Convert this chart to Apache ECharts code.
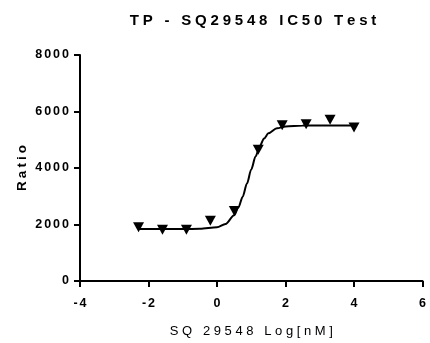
<!DOCTYPE html>
<html>
<head>
<meta charset="utf-8">
<script src="https://cdn.jsdelivr.net/npm/echarts@6/dist/echarts.min.js"></script>
<style>html,body{margin:0;padding:0;background:#fff;overflow:hidden}#c{width:430px;height:343px}</style>
</head>
<body>
<div id="c"></div>
<script>
// ---- data ----
const chartTitle = 'TP - SQ29548 IC50 Test';
const xAxisTitle = 'SQ 29548 Log[nM]';
const yAxisTitle = 'Ratio';
const xTicks = [-4, -2, 0, 2, 4, 6];
const yTicks = [0, 2000, 4000, 6000, 8000];
// measured points (log concentration, ratio)
const logConc = [-2.291, -1.592, -0.893, -0.194, 0.505, 1.204, 1.903, 2.602, 3.301, 4.0];
const ratio = [1900, 1815, 1815, 2135, 2480, 4650, 5515, 5550, 5710, 5435];
// fitted curve
const fitX = [-2.3, -1.5, -1.0, -0.5, 0, 0.25, 0.5, 0.625, 0.75, 0.875, 1.0, 1.125, 1.25, 1.375, 1.5, 1.75, 2.0, 2.5, 3.0, 4.0];
const fitY = [1840, 1840, 1840, 1847, 1901, 2017, 2325, 2605, 2985, 3452, 3950, 4409, 4779, 5047, 5226, 5406, 5472, 5502, 5506, 5506];

const FONT = "'Liberation Sans', Arial, Helvetica, sans-serif";
function spaced(str, key) {
  return String(str).split('').map(c => '{' + key + '|' + c + '}').join('');
}

const chart = echarts.init(document.getElementById('c'), null, {renderer: 'canvas'});
const pts = logConc.map((x, i) => [x, ratio[i]]);
const curve = fitX.map((x, i) => [x, fitY[i]]);

chart.setOption({
  animation: false,
  backgroundColor: '#ffffff',
  title: {
    text: spaced(chartTitle, 't'),
    left: 253,
    top: 12,
    padding: 0,
    textAlign: 'center',
    textStyle: {
      rich: {
        t: {fontFamily: FONT, fontWeight: 'bold', fontSize: 15, color: '#000', padding: [0, 1.9, 0, 1.9], lineHeight: 17}
      }
    }
  },
  grid: {left: 80, right: 4, top: 55, bottom: 57, containLabel: false},
  xAxis: {
    type: 'value',
    min: xTicks[0], max: xTicks[xTicks.length - 1], interval: 2,
    name: spaced(xAxisTitle, 'n'),
    nameLocation: 'middle',
    nameGap: 43,
    nameMoveOverlap: false,
    nameTextStyle: {
      rich: { n: {fontFamily: FONT, fontSize: 13, color: '#000', padding: [0, 1.8, 0, 1.8], lineHeight: 15} }
    },
    axisLine: {show: true, onZero: false, lineStyle: {color: '#000', width: 2}},
    axisTick: {show: true, inside: false, length: 6, lineStyle: {color: '#000', width: 2}},
    splitLine: {show: false},
    axisLabel: {
      margin: 16,
      formatter: v => spaced(v, 'l'),
      rich: { l: {fontFamily: FONT, fontWeight: 'bold', fontSize: 12.5, color: '#000', padding: [0, 1, 0, 1], lineHeight: 14} }
    }
  },
  yAxis: {
    type: 'value',
    min: yTicks[0], max: yTicks[yTicks.length - 1], interval: 2000,
    name: spaced(yAxisTitle, 'y'),
    nameLocation: 'middle',
    nameRotate: 90,
    nameGap: 50,
    nameMoveOverlap: false,
    nameTextStyle: {
      rich: { y: {fontFamily: FONT, fontWeight: 'bold', fontSize: 13.5, color: '#000', padding: [0, 1.5, 0, 1.5], lineHeight: 15} }
    },
    axisLine: {show: true, onZero: false, lineStyle: {color: '#000', width: 2}},
    axisTick: {show: true, inside: false, length: 6, lineStyle: {color: '#000', width: 2}},
    splitLine: {show: false},
    axisLabel: {
      margin: 10,
      formatter: v => spaced(v, 'l'),
      rich: { l: {fontFamily: FONT, fontWeight: 'bold', fontSize: 12.5, color: '#000', padding: [0, 1, 0, 1], lineHeight: 14} }
    }
  },
  series: [
    {
      type: 'line',
      data: curve,
      showSymbol: false,
      smooth: 0.3,
      smoothMonotone: 'x',
      lineStyle: {color: '#000', width: 2},
      z: 2,
      silent: true
    },
    {
      type: 'scatter',
      data: pts,
      symbol: 'triangle',
      symbolRotate: 180,
      symbolSize: [11, 10],
      itemStyle: {color: '#000', opacity: 1},
      z: 3
    }
  ]
});
</script>
</body>
</html>
